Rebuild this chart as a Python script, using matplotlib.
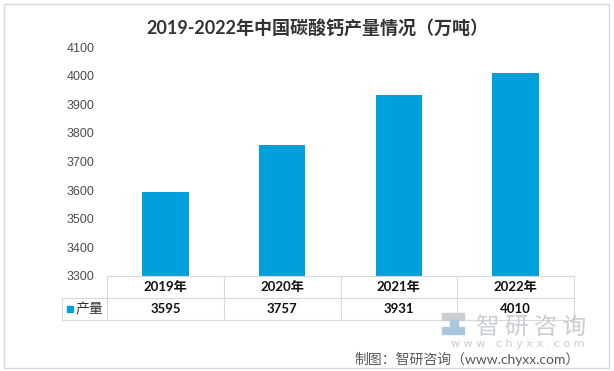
import matplotlib
matplotlib.use("Agg")
import matplotlib.pyplot as plt
from matplotlib.patches import Rectangle
from matplotlib.transforms import blended_transform_factory

categories = ["2019年", "2020年", "2021年", "2022年"]
values = [3595, 3757, 3931, 4010]
series_name = "产量"
yticks = [3300, 3400, 3500, 3600, 3700, 3800, 3900, 4000, 4100]
title = "2019-2022年中国碳酸钙产量情况（万吨）"
source = "制图：智研咨询（www.chyxx.com）"

W, H = 614, 371
BAR = "#00A0DC"
fam = ["Lato", "Noto Sans CJK SC", "DejaVu Sans"]
plt.rcParams["font.family"] = fam

fig = plt.figure(figsize=(W / 100, H / 100), dpi=100)
fig.patch.set_facecolor("white")

def fx(px):
    return px / W

def fy(py):
    return 1 - py / H

# border
fig.add_artist(Rectangle((fx(4), fy(368)), fx(609) - fx(4), fy(4) - fy(368),
                         transform=fig.transFigure, fill=False,
                         edgecolor="#d9d9d9", linewidth=1.0))

ax = fig.add_axes([fx(107), fy(276), fx(574) - fx(107), fy(47) - fy(276)])
x = list(range(len(categories)))
ax.bar(x, values, width=0.40, color=BAR, zorder=2)
ax.set_xlim(-0.5, len(categories) - 0.5)
ax.set_ylim(yticks[0], yticks[-1])
ax.set_yticks(yticks)
ax.set_yticklabels([str(v) for v in yticks], fontsize=9, color="#4d4d4d",
                   family=["Liberation Sans", "DejaVu Sans"])
ax.tick_params(axis="y", length=0, pad=9)
ax.set_xticks([])
for s in ax.spines.values():
    s.set_visible(False)
ax.patch.set_alpha(0)

# data table below the axes
tr = blended_transform_factory(ax.transData, ax.transAxes)
rh = 22 / 229.0
lab_left = -0.5 - 45 / 116.75
lc = "#d9d9d9"
lw = 0.8
n = len(categories)
ax.plot([-0.5, n - 0.5], [0, 0], transform=tr, color=lc, lw=lw, clip_on=False)
ax.plot([lab_left, n - 0.5], [-rh, -rh], transform=tr, color=lc, lw=lw, clip_on=False)
ax.plot([lab_left, n - 0.5], [-2 * rh, -2 * rh], transform=tr, color=lc, lw=lw, clip_on=False)
ax.plot([lab_left, lab_left], [-rh, -2 * rh], transform=tr, color=lc, lw=lw, clip_on=False)
for i in range(n + 1):
    ax.plot([i - 0.5, i - 0.5], [0, -2 * rh], transform=tr, color=lc, lw=lw, clip_on=False)
for i, (c, v) in enumerate(zip(categories, values)):
    ax.text(i, -0.5 * rh, c, transform=tr, ha="center", va="center",
            fontsize=9.5, fontweight="bold", color="#111111")
    ax.text(i, -1.5 * rh, str(v), transform=tr, ha="center", va="center",
            fontsize=9.5, fontweight="bold", color="#111111")
ax.add_patch(Rectangle((lab_left + 0.04, -1.5 * rh - 0.014), 0.05, 0.028,
                       transform=tr, color=BAR, clip_on=False))
ax.text(lab_left + 0.12, -1.5 * rh, series_name, transform=tr, ha="left",
        va="center", fontsize=10, color="#333333")

# title
fig.text(fx(317), fy(28), title, ha="center", va="center", fontsize=13,
         fontweight="bold", color="#333333")

# watermark
wm = "#c9ced3"
fig.add_artist(Rectangle((fx(442), fy(320)), fx(464) - fx(442), fy(313) - fy(320),
                         transform=fig.transFigure, color=wm))
fig.add_artist(Rectangle((fx(442), fy(334)), fx(464) - fx(442), fy(327) - fy(334),
                         transform=fig.transFigure, color="#a9c8e0"))
fig.add_artist(Rectangle((fx(450), fy(327)), fx(458) - fx(450), fy(320) - fy(327),
                         transform=fig.transFigure, color="#a9c8e0"))
fig.text(fx(531), fy(328), "智 研 咨 询", ha="center", va="center", fontsize=17,
         color=wm, family=["Noto Sans CJK SC"])
fig.text(fx(518), fy(344), "w w w . c h y x x . c o m", ha="center", va="center",
         fontsize=8, color=wm, family=["DejaVu Sans"])

# source
fig.text(fx(580), fy(359), source, ha="right", va="center", fontsize=10,
         color="#595959")

fig.savefig("out.png", dpi=100, facecolor="white")
